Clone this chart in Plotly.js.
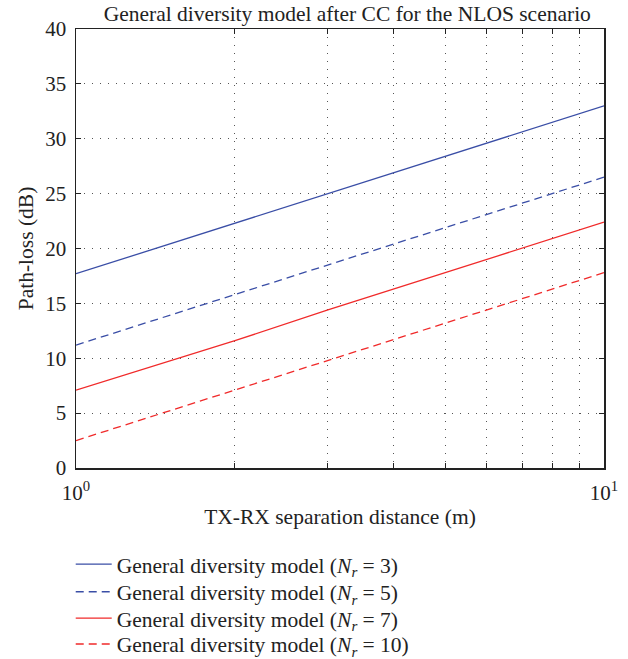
<!DOCTYPE html>
<html>
<head>
<meta charset="utf-8">
<script src="https://cdn.plot.ly/plotly-3.0.1.min.js"></script>
<style>html,body{margin:0;padding:0;background:#fff;}#chart{width:628px;height:659px;}</style>
</head>
<body>
<div id="chart"></div>
<script>
const distance = [1, 2, 3, 5, 7, 10];
const pl_nr3  = [17.7, 22.3, 25.0, 28.4, 30.6, 33.0];
const pl_nr5  = [11.2, 15.8, 18.5, 21.9, 24.1, 26.5];
const pl_nr7  = [7.1, 11.6, 14.4, 17.8, 20.0, 22.4];
const pl_nr10 = [2.5, 7.1, 9.8, 13.2, 15.4, 17.8];
const seriesNames = [
  'General diversity model (<i>N</i><sub><i>r</i></sub> = 3)',
  'General diversity model (<i>N</i><sub><i>r</i></sub> = 5)',
  'General diversity model (<i>N</i><sub><i>r</i></sub> = 7)',
  'General diversity model (<i>N</i><sub><i>r</i></sub> = 10)'
];
const xTickVals = [1,2,3,4,5,6,7,8,9,10];
const xTickText = ['10<sup>0</sup>','','','','','','','','','10<sup>1</sup>'];
const yTickVals = [0,5,10,15,20,25,30,35,40];

const blue = '#3a4ea6', red = '#f02a2a';
const series = [pl_nr3, pl_nr5, pl_nr7, pl_nr10];
const colors = [blue, blue, red, red];
const dashes = ['solid', '8px,5px', 'solid', '8px,5px'];
const legendIds = ['legend', 'legend2', 'legend3', 'legend4'];
const legendY = [-0.219, -0.282, -0.342, -0.401];

const traces = series.map((y, i) => ({
  x: distance, y: y, type: 'scatter', mode: 'lines',
  name: seriesNames[i], legend: legendIds[i],
  line: {color: colors[i], width: 1.3, dash: dashes[i]}
}));

const font = 'Liberation Serif';
const txt = '#222';
const layout = {
  width: 628, height: 659,
  margin: {l: 76, r: 24, t: 29, b: 191, autoexpand: false},
  paper_bgcolor: '#fff', plot_bgcolor: '#fff',
  font: {family: font, size: 21, color: txt},
  title: {text: 'General diversity model after CC for the NLOS scenario', x: 0.553, xanchor: 'center', y: 0.979, yanchor: 'middle', font: {family: font, size: 21.5, color: txt}},
  xaxis: {
    type: 'log', range: [0, 1], tickvals: xTickVals, ticktext: xTickText,
    showgrid: true, gridcolor: '#555', griddash: '1px,7px', gridwidth: 1,
    ticks: 'inside', ticklen: 5, tickcolor: '#222', mirror: 'ticks',
    showline: true, linecolor: '#222', linewidth: 1.5,
    zeroline: false, ticklabelstandoff: 5,
    tickfont: {size: 21, family: font, color: txt},
    title: {text: 'TX-RX separation distance (m)', standoff: 5, font: {size: 21.5, family: font, color: txt}}
  },
  yaxis: {
    range: [0, 40], tickvals: yTickVals,
    showgrid: true, gridcolor: '#555', griddash: '1px,7px', gridwidth: 1,
    ticks: 'inside', ticklen: 5, tickcolor: '#222', mirror: 'ticks',
    showline: true, linecolor: '#222', linewidth: 1.5,
    zeroline: false, ticklabelstandoff: 4,
    tickfont: {size: 21, family: font, color: txt},
    title: {text: 'Path-loss (dB)', standoff: 6, font: {size: 21.5, family: font, color: txt}}
  },
  showlegend: true
};
legendIds.forEach((id, i) => {
  layout[id] = {
    x: -0.01, xanchor: 'left', y: legendY[i], yanchor: 'middle',
    orientation: 'v', itemwidth: 36,
    font: {size: 21.5, family: font, color: txt},
    bgcolor: 'rgba(0,0,0,0)'
  };
});
Plotly.newPlot('chart', traces, layout, {displayModeBar: false, staticPlot: true});
</script>
</body>
</html>
